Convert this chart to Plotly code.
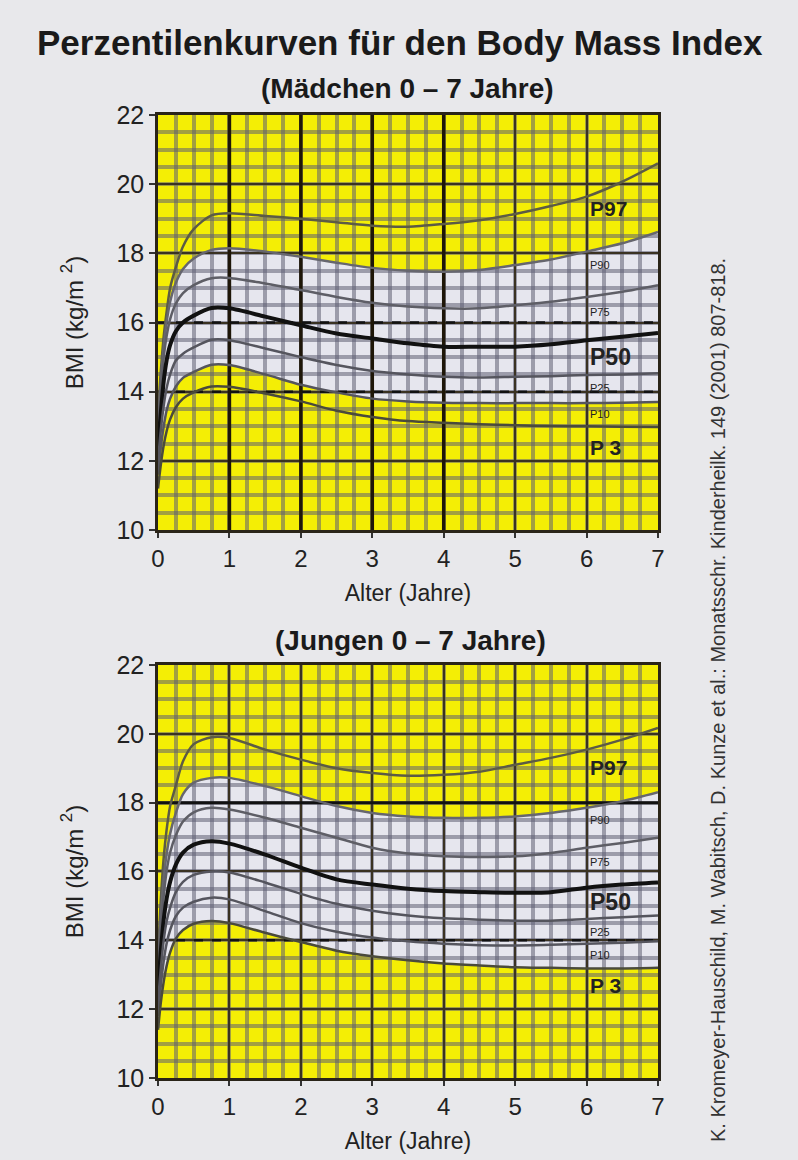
import plotly.graph_objects as go

# ---------------- data ----------------
age = [0, 0.04, 0.08, 0.12, 0.17, 0.25, 0.35, 0.5, 0.75, 1, 1.5, 2, 2.5, 3,
       3.5, 4, 4.5, 5, 5.5, 6, 6.5, 7]

percentiles = ["P97", "P90", "P75", "P50", "P25", "P10", "P3"]
label_text = ["P97", "P90", "P75", "P50", "P25", "P10", "P 3"]

girls_p97 = [13.4, 14.6, 15.6, 16.3, 17.0, 17.6, 18.2, 18.7, 19.1, 19.16, 19.08, 19.0, 18.9, 18.8, 18.77, 18.85, 18.96, 19.14, 19.37, 19.64, 20.07, 20.6]
girls_p90 = [13.1, 14.3, 15.3, 16.0, 16.6, 17.15, 17.55, 17.85, 18.1, 18.15, 18.05, 17.9, 17.73, 17.58, 17.5, 17.47, 17.52, 17.66, 17.82, 18.05, 18.29, 18.62]
girls_p75 = [12.8, 14.0, 15.0, 15.6, 16.1, 16.55, 16.85, 17.08, 17.28, 17.29, 17.13, 16.94, 16.74, 16.57, 16.46, 16.41, 16.41, 16.5, 16.6, 16.74, 16.89, 17.08]
girls_p50 = [12.4, 13.4, 14.3, 14.9, 15.35, 15.75, 16.0, 16.2, 16.42, 16.41, 16.17, 15.92, 15.68, 15.54, 15.4, 15.3, 15.3, 15.3, 15.37, 15.49, 15.59, 15.7]
girls_p25 = [12.0, 12.9, 13.6, 14.1, 14.5, 14.9, 15.1, 15.28, 15.5, 15.49, 15.25, 15.0, 14.77, 14.6, 14.5, 14.43, 14.41, 14.43, 14.45, 14.48, 14.5, 14.53]
girls_p10 = [11.6, 12.4, 13.0, 13.45, 13.8, 14.15, 14.4, 14.57, 14.78, 14.77, 14.5, 14.2, 13.98, 13.8, 13.72, 13.68, 13.67, 13.67, 13.67, 13.67, 13.68, 13.7]
girls_p3 = [11.2, 11.9, 12.45, 12.85, 13.2, 13.55, 13.8, 13.98, 14.15, 14.14, 13.95, 13.72, 13.45, 13.27, 13.15, 13.1, 13.06, 13.03, 13.01, 13.0, 12.99, 12.98]

boys_p97 = [13.6, 15.2, 16.4, 17.2, 17.9, 18.5, 19.2, 19.7, 19.9, 19.88, 19.54, 19.25, 19.0, 18.86, 18.78, 18.81, 18.9, 19.1, 19.3, 19.54, 19.83, 20.17]
boys_p90 = [13.3, 14.7, 15.8, 16.5, 17.1, 17.7, 18.25, 18.58, 18.72, 18.72, 18.48, 18.19, 17.9, 17.7, 17.6, 17.56, 17.56, 17.6, 17.7, 17.85, 18.04, 18.3]
boys_p75 = [13.0, 14.3, 15.3, 16.0, 16.55, 17.05, 17.45, 17.72, 17.85, 17.8, 17.56, 17.27, 16.98, 16.69, 16.52, 16.44, 16.42, 16.44, 16.54, 16.69, 16.83, 16.98]
boys_p50 = [12.6, 13.7, 14.6, 15.2, 15.7, 16.2, 16.55, 16.78, 16.88, 16.81, 16.49, 16.11, 15.77, 15.62, 15.5, 15.43, 15.4, 15.38, 15.4, 15.53, 15.62, 15.68]
boys_p25 = [12.2, 13.2, 14.0, 14.55, 14.95, 15.4, 15.7, 15.9, 16.0, 15.97, 15.68, 15.35, 15.06, 14.86, 14.72, 14.64, 14.6, 14.57, 14.57, 14.62, 14.67, 14.72]
boys_p10 = [11.8, 12.7, 13.4, 13.9, 14.3, 14.7, 14.95, 15.12, 15.24, 15.19, 14.85, 14.5, 14.25, 14.08, 13.97, 13.9, 13.86, 13.85, 13.87, 13.9, 13.93, 13.97]
boys_p3 = [11.4, 12.2, 12.8, 13.25, 13.65, 14.05, 14.3, 14.48, 14.56, 14.5, 14.22, 13.95, 13.7, 13.54, 13.42, 13.33, 13.27, 13.22, 13.2, 13.18, 13.18, 13.2]

x_ticks = [0, 1, 2, 3, 4, 5, 6, 7]
y_ticks = [10, 12, 14, 16, 18, 20, 22]

girls = [girls_p97, girls_p90, girls_p75, girls_p50, girls_p25, girls_p10, girls_p3]
boys = [boys_p97, boys_p90, boys_p75, boys_p50, boys_p25, boys_p10, boys_p3]

# ---------------- styles ----------------
FONT = "Liberation Sans, Arial, sans-serif"
BG = "#e8e8eb"
YELLOW = "#f4ee05"
BAND = "#e6e6ee"
line_colors = ["#5c5b45", "#66666e", "#5e5e66", "#111111", "#55555e", "#55555e", "#4a4a3c"]
line_widths = [2.5, 2.5, 2.5, 4, 2.5, 2.5, 2.5]
label_sizes = [21, 11, 11, 23, 11, 11, 21]
label_bold = [True, False, False, True, False, False, True]
girls_label_y = [19.3, 17.66, 16.3, 15.0, 14.1, 13.35, 12.4]
boys_label_y = [19.03, 17.5, 16.27, 15.1, 14.24, 13.57, 12.7]

fig = go.Figure()


def band_path(hi, lo):
    pts = [f"{a},{v}" for a, v in zip(age, hi)]
    pts += [f"{a},{v}" for a, v in zip(reversed(age), reversed(lo))]
    return "M " + " L ".join(pts) + " Z"


def add_chart(series, xa, ya, band_hi, band_lo, label_y, thick_x, thick_y, dashed_y):
    xr = xa.replace("axis", "")
    yr = ya.replace("axis", "")
    fig.add_shape(type="path", path=band_path(band_hi, band_lo), xref=xr, yref=yr,
                  fillcolor=BAND, line=dict(width=0), layer="below")
    for xv in thick_x:
        fig.add_shape(type="line", xref=xr, yref=yr, x0=xv, x1=xv, y0=10, y1=22,
                      line=dict(color="#1e1608", width=3.5), layer="between")
    for yv in thick_y:
        fig.add_shape(type="line", xref=xr, yref=yr, x0=0, x1=7, y0=yv, y1=yv,
                      line=dict(color="#111111", width=3), layer="between")
    for yv in dashed_y:
        fig.add_shape(type="line", xref=xr, yref=yr, x0=0, x1=7, y0=yv, y1=yv,
                      line=dict(color="#111111", width=2.5, dash="dash"), layer="between")
    for name, vals, col, w in zip(percentiles, series, line_colors, line_widths):
        fig.add_trace(go.Scatter(x=age, y=vals, xaxis=xr, yaxis=yr, mode="lines",
                                 name=name, showlegend=False, hoverinfo="skip",
                                 line=dict(color=col, width=w, shape="spline", smoothing=0.8)))
    for txt, ly, sz, b in zip(label_text, label_y, label_sizes, label_bold):
        fig.add_annotation(x=6.02, y=ly, xref=xr, yref=yr, xanchor="left", yanchor="middle",
                           text=f"<b>{txt}</b>" if b else txt, showarrow=False,
                           font=dict(family=FONT, size=sz, color="#222222"))


add_chart(girls, "xaxis", "yaxis", girls_p90, girls_p10, girls_label_y,
          thick_x=[1, 2, 3, 4], thick_y=[], dashed_y=[16, 14])
add_chart(boys, "xaxis2", "yaxis2", boys_p90, boys_p3, boys_label_y,
          thick_x=[], thick_y=[18], dashed_y=[14])

GRID_MINOR = "rgba(95,95,115,0.55)"
GRID_MAJOR = "#3a3222"


def xaxis_cfg(anchor):
    return dict(domain=[0, 1], range=[0, 7], anchor=anchor, tickvals=x_ticks,
                automargin=False,
                showgrid=True, gridcolor=GRID_MAJOR, gridwidth=2,
                minor=dict(dtick=0.25, tick0=0, showgrid=True, gridcolor=GRID_MINOR, gridwidth=3.5),
                showline=True, mirror=True, linecolor="#2a2418", linewidth=2.5,
                ticks="outside", ticklen=5, tickwidth=1.5, tickcolor="#333333",
                tickfont=dict(family=FONT, size=24, color="#222222"),
                title=dict(text="Alter (Jahre)", standoff=15,
                           font=dict(family=FONT, size=23, color="#222222")),
                zeroline=False, fixedrange=True)


def yaxis_cfg(domain, anchor):
    return dict(domain=domain, range=[10, 22], anchor=anchor, tickvals=y_ticks,
                automargin=False,
                showgrid=True, gridcolor=GRID_MAJOR, gridwidth=2,
                minor=dict(dtick=0.5, tick0=10, showgrid=True, gridcolor=GRID_MINOR, gridwidth=3.5),
                showline=True, mirror=True, linecolor="#2a2418", linewidth=2.5,
                ticks="outside", ticklen=6, tickwidth=1.5, tickcolor="#333333",
                tickfont=dict(family=FONT, size=25, color="#222222"),
                title=dict(text="BMI (kg/m <sup>2</sup>)", standoff=27,
                           font=dict(family=FONT, size=24, color="#222222")),
                zeroline=False, fixedrange=True)


fig.update_layout(
    width=798, height=1160,
    margin=dict(l=158, r=140, t=115, b=82, autoexpand=False),
    paper_bgcolor=BG, plot_bgcolor=YELLOW,
    xaxis=xaxis_cfg("y"),
    yaxis=yaxis_cfg([0.569, 1], "x"),
    xaxis2=xaxis_cfg("y2"),
    yaxis2=yaxis_cfg([0, 0.4289], "x2"),
    showlegend=False,
)

fig.add_annotation(x=0.484, y=1.0758, xref="paper", yref="paper", showarrow=False,
                   xanchor="center", yanchor="middle",
                   text="<b>Perzentilenkurven für den Body Mass Index</b>",
                   font=dict(family=FONT, size=35, color="#1a1a1a"))
fig.add_annotation(x=0.498, y=1.028, xref="paper", yref="paper", showarrow=False,
                   xanchor="center", yanchor="middle",
                   text="<b>(Mädchen 0 – 7 Jahre)</b>",
                   font=dict(family=FONT, size=28, color="#1a1a1a"))
fig.add_annotation(x=0.504, y=0.4548, xref="paper", yref="paper", showarrow=False,
                   xanchor="center", yanchor="middle",
                   text="<b>(Jungen 0 – 7 Jahre)</b>",
                   font=dict(family=FONT, size=28, color="#1a1a1a"))
fig.add_annotation(x=1.12, y=0.3925, xref="paper", yref="paper", showarrow=False,
                   xanchor="center", yanchor="middle", textangle=-90,
                   text="K. Kromeyer-Hauschild, M. Wabitsch, D. Kunze et al.: Monatsschr. Kinderheilk. 149 (2001) 807-818.",
                   font=dict(family=FONT, size=20, color="#333333"))

fig.write_html(
    "out.html",
    config={"displayModeBar": False},
    post_script="document.body.style.margin='0px';document.body.style.background='#e8e8eb';",
)
